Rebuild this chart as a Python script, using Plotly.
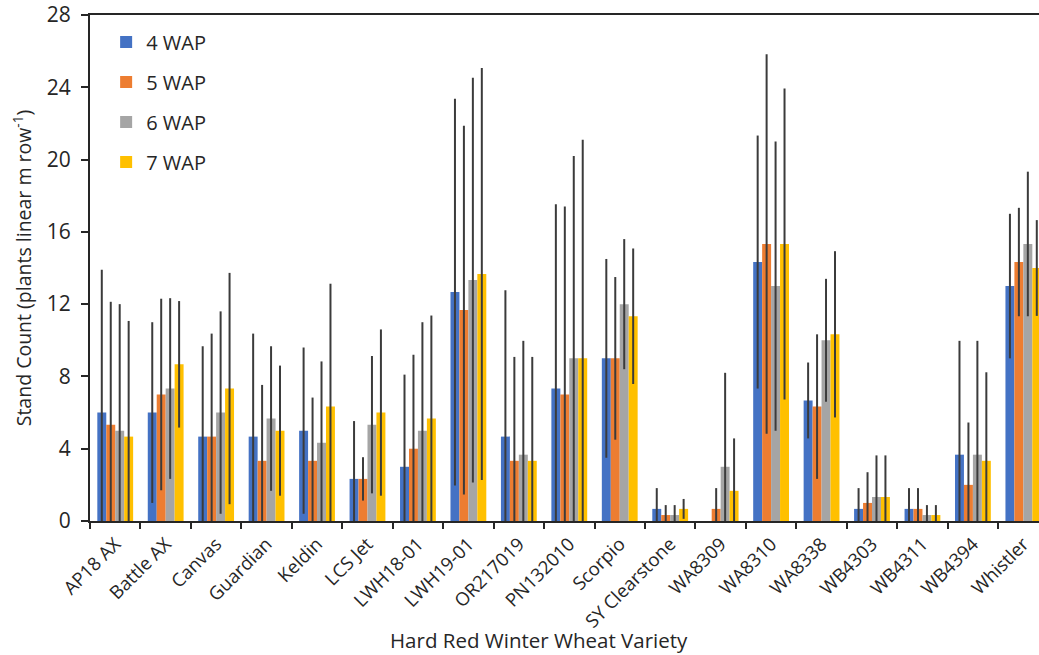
import plotly.graph_objects as go

varieties = ["AP18 AX", "Battle AX", "Canvas", "Guardian", "Keldin", "LCS Jet",
             "LWH18-01", "LWH19-01", "OR217019", "PN132010", "Scorpio",
             "SY Clearstone", "WA8309", "WA8310", "WA8338", "WB4303", "WB4311",
             "WB4394", "Whistler"]

wap4 = [6.00, 6.00, 4.67, 4.67, 5.00, 2.33, 3.00, 12.67, 4.67, 7.33, 9.00, 0.67, 0.00, 14.33, 6.67, 0.67, 0.67, 3.67, 13.00]
err4 = [7.9, 5.0, 5.0, 5.7, 4.6, 3.2, 5.1, 10.7, 8.1, 10.2, 5.5, 1.15, 0.0, 7.0, 2.1, 1.15, 1.15, 6.3, 4.0]

wap5 = [5.33, 7.00, 4.67, 3.33, 3.33, 2.33, 4.00, 11.67, 3.33, 7.00, 9.00, 0.33, 0.67, 15.33, 6.33, 1.00, 0.67, 2.00, 14.33]
err5 = [6.8, 5.3, 5.7, 4.2, 3.5, 1.2, 5.2, 10.2, 5.75, 10.4, 4.5, 0.55, 1.15, 10.5, 4.0, 1.7, 1.15, 3.45, 3.0]

wap6 = [5.00, 7.33, 6.00, 5.67, 4.33, 5.33, 5.00, 13.33, 3.67, 9.00, 12.00, 0.33, 3.00, 13.00, 10.00, 1.33, 0.33, 3.67, 15.33]
err6 = [7.0, 5.0, 5.6, 4.0, 4.5, 3.8, 6.0, 11.2, 6.3, 11.2, 3.6, 0.55, 5.2, 8.0, 3.4, 2.3, 0.55, 6.3, 4.0]

wap7 = [4.67, 8.67, 7.33, 5.00, 6.33, 6.00, 5.67, 13.67, 3.33, 9.00, 11.33, 0.67, 1.67, 15.33, 10.33, 1.33, 0.33, 3.33, 14.00]
err7 = [6.4, 3.5, 6.4, 3.6, 6.8, 4.6, 5.7, 11.4, 5.75, 12.1, 3.75, 0.55, 2.9, 8.6, 4.6, 2.3, 0.55, 4.9, 2.65]

series_names = ["4 WAP", "5 WAP", "6 WAP", "7 WAP"]
series_vals = [wap4, wap5, wap6, wap7]
series_errs = [err4, err5, err6, err7]
colors = ["#4472C4", "#ED7D31", "#A5A5A5", "#FFC000"]

x_title = "Hard Red Winter Wheat Variety"
y_title = "Stand Count (plants linear m row<sup>-1</sup>)"

FONT = "Open Sans, Segoe UI, sans-serif"
TXT = "#262626"

fig = go.Figure()
for name, vals, errs, col in zip(series_names, series_vals, series_errs, colors):
    fig.add_trace(go.Bar(
        x=varieties, y=vals, name=name, legendgroup=name,
        marker=dict(color=col, line=dict(width=0)),
        error_y=dict(type="data", array=errs, symmetric=True, visible=True,
                     color="#3b3b3b", thickness=2, width=0),
    ))

fig.update_layout(
    width=1039, height=655,
    margin=dict(l=90, r=0, t=15, b=134, pad=0),
    paper_bgcolor="white", plot_bgcolor="white",
    barmode="group", bargap=0.29, bargroupgap=0.0,
    font=dict(family=FONT, size=18, color=TXT),
    showlegend=True,
    legend=dict(x=0.017, y=0.985, xanchor="left", yanchor="top",
                font=dict(size=20, color=TXT), traceorder="grouped",
                tracegroupgap=11, bgcolor="rgba(0,0,0,0)", itemwidth=30),
    xaxis=dict(
        type="category", range=[-0.5, 18.31], tickson="boundaries",
        ticks="outside", ticklen=6, tickwidth=2, tickcolor="#262626",
        showline=True, linecolor="#262626", linewidth=2, mirror=True,
        tickangle=-45, tickfont=dict(size=18.5, color=TXT), ticklabelstandoff=3,
        showgrid=False, zeroline=False, automargin=False,
    ),
    yaxis=dict(
        range=[0, 28], dtick=4, tick0=0,
        ticks="outside", ticklen=7, tickwidth=2, tickcolor="#262626",
        showline=True, linecolor="#262626", linewidth=2,
        tickfont=dict(size=21, color=TXT), ticklabelstandoff=6,
        showgrid=False, zeroline=False, automargin=False,
        title=dict(text=y_title, font=dict(size=19.5, color=TXT), standoff=10),
    ),
    annotations=[dict(
        text=x_title, xref="paper", yref="paper",
        x=(538.5 - 90) / 949, y=-(641 - 521.5) / 506.5,
        xanchor="center", yanchor="middle", showarrow=False,
        font=dict(size=20.5, color=TXT),
    )],
)

fig.write_html("out.html")
